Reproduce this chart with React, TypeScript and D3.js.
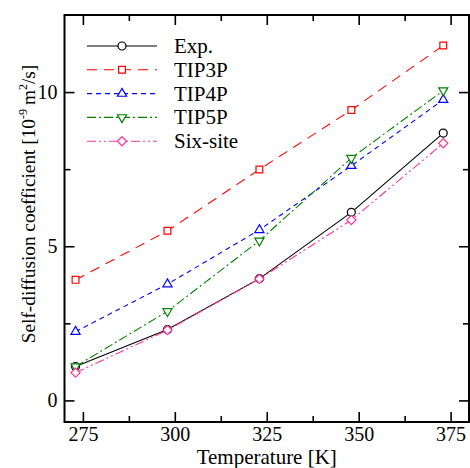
import React, { useEffect, useRef } from "react";
import * as d3 from "d3";

const temps = [273, 298, 323, 348, 373];
const exp = [1.1, 2.3, 3.95, 6.1, 8.67];
const tip3p = [3.91, 5.5, 7.49, 9.42, 11.51];
const tip4p = [2.23, 3.77, 5.53, 7.61, 9.75];
const tip5p = [1.1, 2.89, 5.18, 7.86, 10.05];
const sixSite = [0.9, 2.28, 3.94, 5.85, 8.34];

const xMajor = [275, 300, 325, 350, 375];
const xMinor = [287.5, 312.5, 337.5, 362.5];
const yMajor = [0, 5, 10];
const yMinor = [2.5, 7.5];

const FONT = "Times New Roman, Liberation Serif, Times, serif";

const series = [
  { name: "Exp.", values: exp, color: "#000000", dash: null, shape: "circle" },
  { name: "TIP3P", values: tip3p, color: "#ff0000", dash: "10,7", shape: "square" },
  { name: "TIP4P", values: tip4p, color: "#0000ff", dash: "5,4", shape: "up" },
  { name: "TIP5P", values: tip5p, color: "#008000", dash: "9,3,2,3", shape: "down" },
  { name: "Six-site", values: sixSite, color: "#ff3399", dash: "9,3,2,3,2,3", shape: "diamond" },
];

function markerPath(shape: string) {
  if (shape === "circle") return d3.symbol(d3.symbolCircle, 50)();
  if (shape === "square") return d3.symbol(d3.symbolSquare, 46)();
  if (shape === "diamond") return d3.symbol(d3.symbolSquare, 42)();
  return d3.symbol(d3.symbolTriangle, 36)();
}
function markerRot(shape: string) {
  if (shape === "down") return " rotate(180)";
  if (shape === "diamond") return " rotate(45)";
  return "";
}

export default function App() {
  const ref = useRef<SVGGElement>(null);
  const left = 64.5, right = 469, top = 15, bottom = 422;
  const x = d3.scaleLinear().domain([270, 380]).range([left, right]);
  const y = d3.scaleLinear().domain([-0.7, 12.5]).range([bottom, top]);

  useEffect(() => {
    const g = d3.select(ref.current);
    g.selectAll("*").remove();

    // lines and markers
    const line = d3
      .line<number>()
      .x((_, i) => x(temps[i]))
      .y((d) => y(d));

    series.forEach((s) => {
      g.append("path")
        .attr("d", line(s.values))
        .attr("fill", "none")
        .attr("stroke", s.color)
        .attr("stroke-width", 1.1)
        .attr("stroke-dasharray", s.dash);
      g.selectAll(null)
        .data(s.values)
        .enter()
        .append("path")
        .attr("d", markerPath(s.shape))
        .attr("transform", (d, i) => `translate(${x(temps[i])},${y(d)})` + markerRot(s.shape))
        .attr("fill", "white")
        .attr("stroke", s.color)
        .attr("stroke-width", 1.2);
    });

    // axes, ticks pointing inward
    const axis = (gen: any, tr: string, vals: number[], size: number, labels: boolean, pad: number) => {
      const a = g
        .append("g")
        .attr("transform", tr)
        .call(
          gen
            .tickValues(vals)
            .tickSize(-size)
            .tickPadding(pad)
            .tickFormat(labels ? d3.format("d") : () => "")
        );
      a.select(".domain").remove();
      a.selectAll("line").attr("stroke", "#000").attr("stroke-width", 1.6);
      a.selectAll("text").attr("font-family", FONT).attr("font-size", 20).attr("fill", "#000");
    };
    axis(d3.axisBottom(x), `translate(0,${bottom})`, xMajor, 10, true, 5);
    axis(d3.axisBottom(x), `translate(0,${bottom})`, xMinor, 6, false, 5);
    axis(d3.axisTop(x), `translate(0,${top})`, xMajor, 10, false, 5);
    axis(d3.axisTop(x), `translate(0,${top})`, xMinor, 6, false, 5);
    axis(d3.axisLeft(y), `translate(${left},0)`, yMajor, 10, true, 7);
    axis(d3.axisLeft(y), `translate(${left},0)`, yMinor, 6, false, 7);
    axis(d3.axisRight(y), `translate(${right},0)`, yMajor, 10, false, 7);
    axis(d3.axisRight(y), `translate(${right},0)`, yMinor, 6, false, 7);

    g.append("rect")
      .attr("x", left)
      .attr("y", top)
      .attr("width", right - left)
      .attr("height", bottom - top)
      .attr("fill", "none")
      .attr("stroke", "#000")
      .attr("stroke-width", 2);

    // legend
    const lg = g.append("g");
    series.forEach((s, i) => {
      const ly = 46 + i * 23.8;
      lg.append("line")
        .attr("x1", 87)
        .attr("x2", 157)
        .attr("y1", ly)
        .attr("y2", ly)
        .attr("stroke", s.color)
        .attr("stroke-width", 1.1)
        .attr("stroke-dasharray", s.dash);
      lg.append("path")
        .attr("d", markerPath(s.shape))
        .attr("transform", `translate(122,${ly})` + markerRot(s.shape))
        .attr("fill", "white")
        .attr("stroke", s.color)
        .attr("stroke-width", 1.2);
      lg.append("text")
        .attr("x", 174)
        .attr("y", ly + 7)
        .attr("font-family", FONT)
        .attr("font-size", 21)
        .text(s.name);
    });
  }, []);

  return (
    <svg width={470} height={468} style={{ position: "absolute", left: 0, top: 0 }}>
      <g ref={ref} />
      <text
        x={(left + right) / 2}
        y={464}
        textAnchor="middle"
        fontFamily={FONT}
        fontSize={21}
      >
        Temperature [K]
      </text>
      <text
        transform="translate(35,204) rotate(-90)"
        textAnchor="middle"
        fontFamily={FONT}
        fontSize={19.3}
      >
        Self-diffusion coefficient [10
        <tspan dy={-8} fontSize={12}>-9</tspan>
        <tspan dy={8} dx={4}>m</tspan>
        <tspan dy={-8} fontSize={12}>2</tspan>
        <tspan dy={8}>/s]</tspan>
      </text>
    </svg>
  );
}
